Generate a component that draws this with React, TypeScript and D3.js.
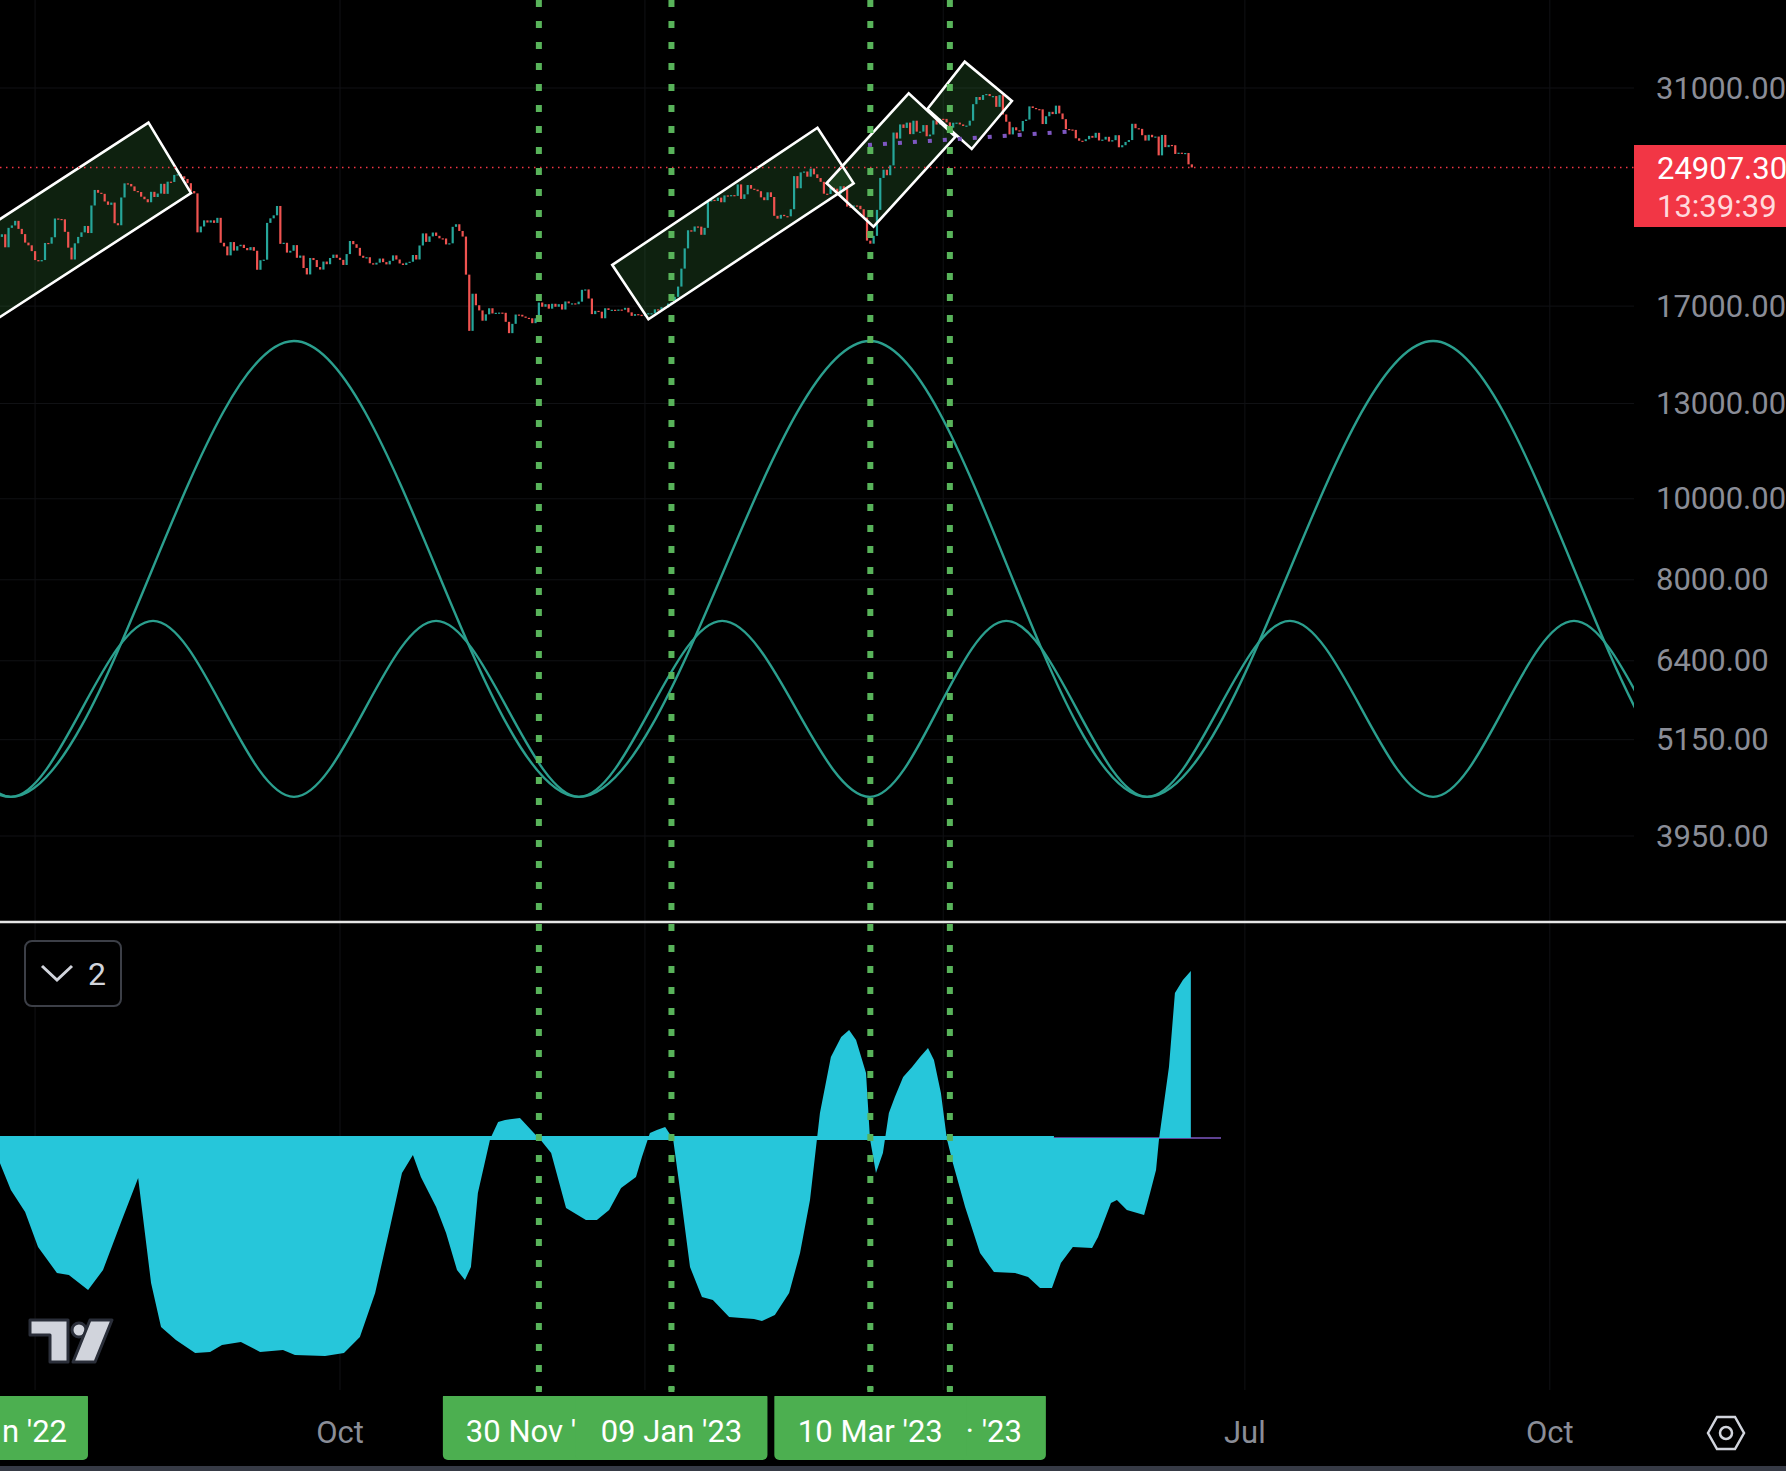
import React, { useEffect } from "react";
import * as d3 from "d3";

const W = 1786;
const H = 1471;
const BASE = Date.UTC(2022, 9, 1); // day 0 = 01 Oct 2022
const dayToDate = (d: number) => new Date(BASE + d * 86400000);

// ---- Daily BTC closes (thousands USD), 20 Jun 2022 .. 15 Jun 2023 ----
const FIRST_CANDLE_DAY = -103;
const FIRST_OPEN_K = 20.4;
const closesK = [
  // Jun 2022 (20-30)
  20.57, 20.72, 19.99, 21.09, 21.23, 21.5, 21.03, 20.73, 20.25, 20.1, 19.78,
  // Jul
  19.3, 19.23, 19.3, 20.23, 20.19, 20.55, 21.64, 21.61, 21.59, 20.86, 19.97, 19.33, 20.21, 20.57, 20.83, 21.2,
  20.79, 22.43, 23.41, 23.23, 23.16, 22.68, 22.47, 22.61, 21.36, 21.24, 22.93, 23.84, 23.8, 23.64, 23.34,
  // Aug
  23.28, 22.98, 22.82, 22.63, 23.29, 22.96, 23.18, 23.81, 23.16, 23.95, 23.93, 24.4, 24.44, 24.31, 24.13, 23.85,
  23.34, 23.19, 20.83, 21.17, 21.53, 21.4, 21.53, 21.38, 21.68, 20.24, 20.04, 19.55, 20.28, 19.81, 20.05,
  // Sep
  20.13, 19.95, 19.83, 20.0, 19.8, 18.79, 19.29, 19.32, 21.38, 21.65, 21.83, 22.4, 20.18, 20.24, 19.7, 19.8,
  20.11, 19.42, 19.54, 18.88, 18.55, 19.41, 19.3, 18.93, 18.8, 19.22, 19.08, 19.41, 19.59, 19.42,
  // Oct
  19.31, 19.04, 19.62, 20.34, 20.16, 19.96, 19.53, 19.42, 19.45, 19.13, 19.06, 19.16, 19.38, 19.19, 19.07, 19.26,
  19.55, 19.33, 19.12, 19.04, 19.16, 19.21, 19.57, 19.33, 20.09, 20.77, 20.29, 20.6, 20.82, 20.63, 20.49,
  // Nov
  20.48, 20.15, 20.21, 21.15, 21.3, 20.91, 20.59, 18.54, 15.88, 17.59, 17.04, 16.8, 16.33, 16.62, 16.9, 16.66,
  16.69, 16.7, 16.69, 16.28, 15.78, 16.19, 16.61, 16.6, 16.52, 16.46, 16.44, 16.22, 16.44, 17.17,
  // Dec
  16.97, 17.09, 16.88, 17.11, 16.97, 17.09, 16.84, 17.22, 17.13, 17.13, 17.09, 17.21, 17.78, 17.8, 17.36, 16.63,
  16.78, 16.74, 16.44, 16.9, 16.82, 16.83, 16.78, 16.84, 16.83, 16.92, 16.71, 16.55, 16.63, 16.6, 16.54,
  // Jan 2023
  16.62, 16.67, 16.67, 16.85, 16.83, 16.95, 16.94, 17.12, 17.18, 17.44, 17.94, 18.85, 19.93, 20.95, 20.87, 21.17,
  21.16, 20.69, 21.09, 22.68, 22.78, 22.71, 22.92, 22.63, 23.06, 23.01, 23.08, 23.03, 23.77, 22.84, 23.13,
  // Feb
  23.73, 23.49, 23.43, 23.33, 22.94, 22.76, 23.26, 22.96, 21.8, 21.63, 21.86, 21.78, 21.77, 22.2, 24.32, 23.52,
  24.57, 24.63, 24.28, 24.83, 24.44, 24.19, 23.94, 23.17, 23.15, 23.55, 23.49, 23.14,
  // Mar
  23.65, 23.47, 22.36, 22.35, 22.43, 22.41, 22.2, 21.7, 20.36, 20.19, 20.63, 22.16, 24.2, 24.75, 24.38, 25.05,
  27.42, 26.97, 28.04, 27.77, 28.18, 27.3, 28.33, 27.49, 27.49, 27.99, 27.14, 27.27, 28.35, 28.03, 28.48,
  // Apr
  28.47, 28.2, 27.79, 28.17, 28.18, 28.04, 27.92, 27.95, 28.33, 29.65, 30.24, 30.0, 30.41, 30.49, 30.32, 30.32,
  29.43, 30.4, 28.82, 28.25, 27.28, 27.82, 27.59, 27.52, 28.31, 28.42, 29.47, 29.34, 29.25, 29.23,
  // May
  28.07, 28.68, 29.03, 28.85, 29.53, 28.9, 28.45, 27.69, 27.65, 27.62, 26.99, 26.81, 26.78, 26.92, 27.17, 27.03,
  27.4, 26.83, 26.89, 27.1, 26.75, 26.85, 27.22, 26.33, 26.48, 26.72, 26.86, 28.09, 27.75, 27.7, 27.22,
  // Jun 2023 (1-15)
  26.82, 27.25, 27.07, 27.12, 25.75, 27.24, 26.34, 26.5, 26.48, 25.85, 25.94, 25.9, 25.92, 25.12, 24.9073,
];

// ---- cycle curves: extremes [day, price] ----
const longCycle: [number, number][] = [
  [-270, 4399], [-184.6, 15444], [-99.3, 4399], [-13.9, 15444], [72.1, 4399], [159.9, 15444],
  [243.5, 4399], [329.8, 15444], [414.8, 4399], [500, 15444],
];
const shortCycle: [number, number][] = [
  [-185, 4399], [-142.1, 7143], [-99.3, 4399], [-56.4, 7143], [-13.9, 4399], [29.0, 7143], [72.1, 4399],
  [115.3, 7143], [159.9, 4399], [201.0, 7143], [243.5, 4399], [286.6, 7143], [329.8, 4399],
  [372.3, 7143], [415.1, 4399], [458, 7143],
];

// ---- drawn rotated rectangles: corners [day, price] ----
const channels: [number, number][][] = [
  [[-57.78, 28175], [-44.95, 23215], [-132.75, 13795], [-145.57, 16742]],
  [[82.15, 19040], [93.05, 16395], [154.96, 23844], [144.06, 27789]],
  [[146.81, 23844], [160.96, 21157], [185.7, 27109], [171.58, 30551]],
  [[177.22, 29258], [188.48, 33329], [202.72, 29910], [190.59, 26206]],
];
const purpleLine: [number, number][] = [[159.3, 26496], [222.4, 27538]];

// ---- oscillator (lower pane): [day, value] ----
const oscillator: [number, number][] = [
  [-102.6, -25], [-99.3, -52], [-95.0, -74], [-91.1, -109], [-85.4, -135], [-81.8, -137], [-76.0, -152],
  [-71.5, -132], [-65.8, -82], [-60.9, -40], [-57.0, -145], [-54.0, -189], [-49.5, -202], [-43.7, -215],
  [-39.2, -214], [-35.6, -207], [-29.9, -204], [-24.1, -214], [-17.2, -212], [-13.6, -217], [-4.5, -218],
  [1.2, -215], [6.0, -199], [10.6, -155], [15.1, -89], [18.7, -35], [22.0, -17], [24.4, -39], [29.0, -69],
  [32.0, -95], [35.3, -132], [37.7, -142], [39.5, -129], [41.6, -55], [45.3, -1], [47.7, 16], [49.8, 18],
  [54.3, 20], [58.5, 5], [60.3, -1], [63.7, -15], [68.2, -70], [74.2, -82], [77.5, -82], [81.2, -72],
  [84.8, -50], [89.3, -39], [91.1, -19], [93.5, 5], [95.6, 8], [98.1, 11], [100.5, -1], [102.3, -45],
  [105.6, -129], [109.2, -159], [112.5, -162], [117.4, -179], [124.9, -181], [127.3, -183], [131.2, -177],
  [135.5, -155], [138.8, -115], [141.8, -62], [143.9, -1], [144.8, 25], [148.1, 81], [151.2, 101],
  [153.6, 108], [155.7, 98], [158.7, 65], [159.9, -1], [161.7, -35], [163.8, -15], [165.6, 25], [167.4, 41],
  [169.9, 61], [172.6, 71], [175.0, 81], [177.4, 90], [179.2, 78], [181.3, 45], [183.1, -1], [184.9, -25],
  [188.6, -69], [193.1, -115], [197.3, -134], [203.7, -135], [207.6, -139], [211.2, -150], [214.8, -150],
  [217.5, -125], [221.1, -109], [226.9, -110], [228.7, -99], [232.6, -65], [234.4, -62], [237.4, -72],
  [242.6, -77], [244.4, -55], [246.2, -32], [247.1, -1], [250.1, 71], [251.9, 145], [254.3, 158], [256.7, 167],
];
const oscBaselineEnd = 215.4;
const signalSpan: [number, number] = [215.4, 265.8];

// ---- axes / markers ----
const priceTicks = [31000, 17000, 13000, 10000, 8000, 6400, 5150, 3950];
const timeTicks: [number, string][] = [[0, "Oct"], [273, "Jul"], [365, "Oct"]];
const gridDays = [-92, 0, 92, 182, 273, 365];
// marker boxes (centred on the marked day), drawn in this order
const markerDays = [-105, 60, 184, 100, 160];
// visible part of each marker's label: [text, anchor, offset from marker x]
const markerTexts: [string, "start" | "middle", number][] = [
  ["n '22", "start", 10],
  ["30 Nov '", "start", -73],
  ["· '23", "start", 16],
  ["09 Jan '23", "middle", 0],
  ["10 Mar '23", "middle", 0],
];
const lineDays = [60, 100, 160, 184];
const lastPrice = 24907.3;
const countdown = "13:39:39";

const FONT = "Roboto, 'Noto Sans', sans-serif";

export default function App() {
  useEffect(() => {
    document.body.style.margin = "0";
    document.body.style.background = "#000";
  }, []);

  const x = d3.scaleUtc().domain([dayToDate(0), dayToDate(365)]).range([340, 1549.8]);
  const xd = (d: number) => x(dayToDate(d));
  const y = d3.scaleLog().domain([3950, 31000]).range([836, 88]);
  const yo = d3.scaleLinear().domain([-250, 200]).range([1388, 938]);

  const plotRight = 1634;
  const mainBottom = 922;

  const wave = d3
    .line<[number, number]>()
    .x((d) => xd(d[0]))
    .y((d) => y(d[1]))
    .curve(d3.curveMonotoneX);

  const area = d3
    .area<[number, number]>()
    .x((d) => xd(d[0]))
    .y0(yo(0))
    .y1((d) => yo(d[1]));

  const poly = (pts: [number, number][]) =>
    pts.map((p) => `${xd(p[0])},${y(p[1])}`).join(" ");

  const candles = closesK.map((c, i) => {
    const o = i === 0 ? FIRST_OPEN_K : closesK[i - 1];
    return { day: FIRST_CANDLE_DAY + i, o: o * 1000, c: c * 1000 };
  });

  const teal = "#2b9f8e";
  const green = "#4caf50";

  return (
    <div style={{ position: "absolute", left: 0, top: 0, width: W, height: H, background: "#000" }}>
      <svg width={W} height={H} style={{ display: "block", background: "#000" }} fontFamily={FONT}>
        <defs>
          <clipPath id="mainClip">
            <rect x={0} y={0} width={plotRight} height={mainBottom} />
          </clipPath>
          <clipPath id="oscClip">
            <rect x={0} y={mainBottom + 2} width={plotRight} height={1390 - mainBottom} />
          </clipPath>
          <clipPath id="axisClip">
            <rect x={0} y={1390} width={W} height={75} />
          </clipPath>
        </defs>
        <rect x={0} y={0} width={W} height={H} fill="#000" />

        {/* faint grid */}
        <g stroke="#101114" strokeWidth={1}>
          {priceTicks.map((p) => (
            <line key={p} x1={0} x2={plotRight} y1={y(p)} y2={y(p)} />
          ))}
          {gridDays.map((d) => (
            <line key={d} x1={xd(d)} x2={xd(d)} y1={0} y2={1390} />
          ))}
        </g>

        {/* main pane */}
        <g clipPath="url(#mainClip)">
          {channels.map((c, i) => (
            <polygon key={"f" + i} points={poly(c)} fill="rgba(76,175,80,0.19)" />
          ))}
          {candles.map((k) => {
            const up = k.c >= k.o;
            const y1 = y(Math.max(k.o, k.c));
            const y2 = y(Math.min(k.o, k.c));
            return (
              <rect
                key={k.day}
                x={xd(k.day) - 1.1}
                y={y1}
                width={2.2}
                height={Math.max(1.2, y2 - y1)}
                fill={up ? "#26a69a" : "#ef5350"}
              />
            );
          })}
          {channels.map((c, i) => (
            <polygon key={"b" + i} points={poly(c)} fill="none" stroke="#ffffff" strokeWidth={2.6} />
          ))}
          <line
            x1={xd(purpleLine[0][0])}
            y1={y(purpleLine[0][1])}
            x2={xd(purpleLine[1][0])}
            y2={y(purpleLine[1][1])}
            stroke="#7e57c2"
            strokeWidth={4}
            strokeDasharray="4 11"
          />
          <path d={wave(longCycle) || ""} fill="none" stroke={teal} strokeWidth={2.4} />
          <path d={wave(shortCycle) || ""} fill="none" stroke={teal} strokeWidth={2.4} />
          <line
            x1={0}
            x2={plotRight}
            y1={y(lastPrice)}
            y2={y(lastPrice)}
            stroke="#f23645"
            strokeWidth={1.5}
            strokeDasharray="1.5 4.5"
          />
        </g>

        {/* oscillator pane */}
        <g clipPath="url(#oscClip)">
          <line x1={0} x2={xd(oscBaselineEnd)} y1={yo(0)} y2={yo(0)} stroke="#26c6da" strokeWidth={4} />
          <line
            x1={xd(signalSpan[0])}
            x2={xd(signalSpan[1])}
            y1={yo(0)}
            y2={yo(0)}
            stroke="#7e57c2"
            strokeWidth={1.6}
          />
          <path d={area(oscillator) || ""} fill="#26c6da" />
        </g>

        {/* pane separator */}
        <line x1={0} x2={W} y1={mainBottom} y2={mainBottom} stroke="#e6e6e6" strokeWidth={2.6} />

        {/* vertical dotted markers */}
        <g stroke="#58b35a" strokeWidth={6} strokeDasharray="7 14">
          {lineDays.map((d) => (
            <line key={d} x1={xd(d)} x2={xd(d)} y1={0} y2={1392} />
          ))}
        </g>

        {/* price axis */}
        <g fontSize={31} fill="#8a8d97">
          {priceTicks.map((p) => (
            <text key={p} x={1656} y={y(p)} dominantBaseline="central">
              {d3.format(".2f")(p)}
            </text>
          ))}
        </g>
        <rect x={1634} y={145} width={W - 1634} height={82} fill="#f23645" />
        <text x={1657} y={y(lastPrice) + 1} fontSize={31} fill="#ffffff" dominantBaseline="central">
          {d3.format(".2f")(lastPrice)}
        </text>
        <text x={1657} y={206} fontSize={31} fill="#ffd9dc" dominantBaseline="central">
          {countdown}
        </text>

        {/* time axis */}
        <g clipPath="url(#axisClip)">
          {timeTicks.map(([d, l]) => (
            <text key={d} x={xd(d)} y={1432} fontSize={31} fill="#8a8d97" textAnchor="middle" dominantBaseline="central">
              {l}
            </text>
          ))}
          {markerDays.map((d, i) => (
            <rect key={i} x={xd(d) - 96} y={1392} width={192} height={68} rx={5} fill={green} />
          ))}
          {markerDays.map((d, i) => {
            const [t, anchor, off] = markerTexts[i];
            return (
              <text
                key={"t" + i}
                x={xd(d) + off}
                y={1431}
                fontSize={31}
                fill="#ffffff"
                textAnchor={anchor}
                dominantBaseline="central"
              >
                {t}
              </text>
            );
          })}
        </g>
        <rect x={0} y={1390} width={W} height={6} fill="#000" />
        {lineDays.map((d) => (
          <rect key={d} x={xd(d) - 3} y={1387} width={6} height={5} fill="#58b35a" />
        ))}

        {/* settings icon */}
        <g transform="translate(1726,1433)" fill="none" stroke="#d1d4dc" strokeWidth={2.5}>
          <polygon points="-18,0 -9,-16 9,-16 18,0 9,16 -9,16" />
          <circle r={6} />
        </g>

        {/* bottom bar */}
        <rect x={0} y={1466} width={W} height={5} fill="#363a45" />

        {/* pane legend button */}
        <rect x={25} y={941} width={96} height={65} rx={7} fill="#000" stroke="#3c3f47" strokeWidth={2} />
        <path d="M42,966 L57,980 L72,966" fill="none" stroke="#d1d4dc" strokeWidth={3} />
        <text x={88} y={974} fontSize={32} fill="#d1d4dc" dominantBaseline="central">
          2
        </text>

        {/* TradingView logo */}
        <g fill="#d1d4dc" stroke="#2a2e39" strokeWidth={3} strokeLinejoin="round">
          <path d="M30,1320 L68,1320 L68,1362 L50,1362 L50,1335 L30,1335 Z" />
          <circle cx={79} cy={1330} r={7} />
          <path d="M90,1320 L112,1320 L95,1362 L73,1362 Z" />
        </g>
      </svg>
    </div>
  );
}
